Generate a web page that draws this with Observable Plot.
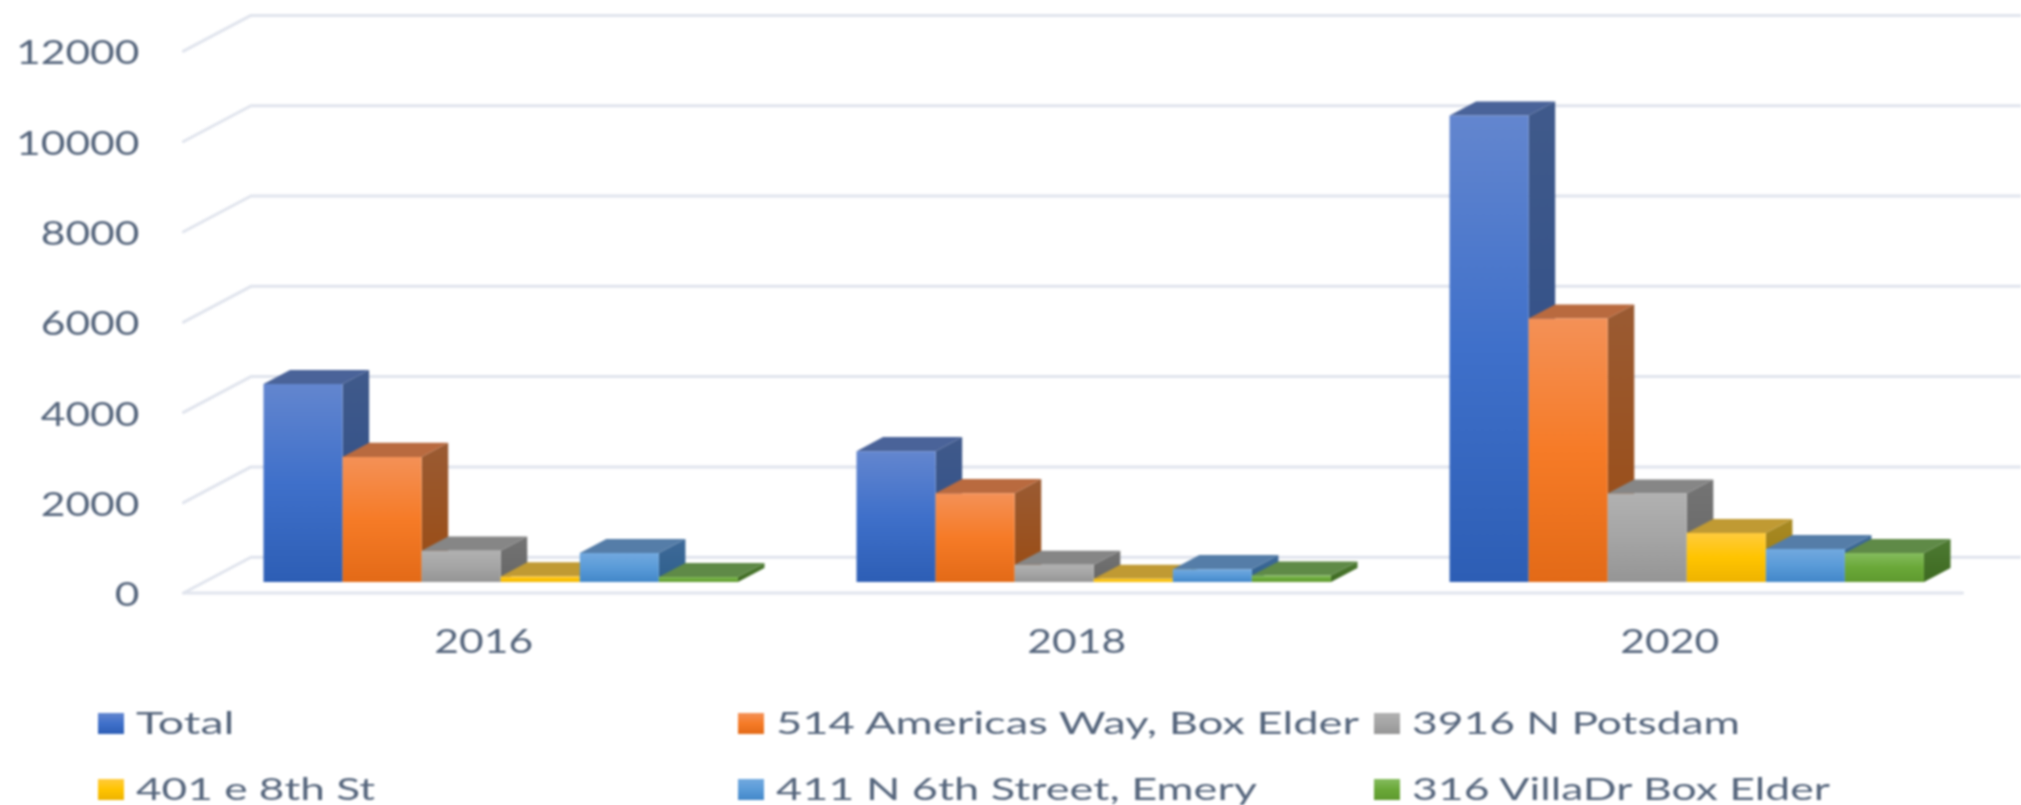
<!DOCTYPE html>
<html>
<head>
<meta charset="utf-8">
<script src="https://cdn.jsdelivr.net/npm/d3@7"></script>
<script src="https://cdn.jsdelivr.net/npm/@observablehq/plot@0.6"></script>
<style>
  html, body { margin: 0; padding: 0; background: #fff; overflow: hidden; }
  #chart { width: 2021px; height: 805px; filter: blur(1px); }
  #chart svg { display: block; }
</style>
</head>
<body>
<div id="chart"></div>
<script>
// ---- data ----
const years = ["2016", "2018", "2020"];
const seriesNames = ["Total", "514 Americas Way, Box Elder", "3916 N Potsdam", "401 e 8th St", "411 N 6th Street, Emery", "316 VillaDr Box Elder"];
const total    = [4385, 2897, 10330];
const americas = [2770, 1967, 5836];
const potsdam  = [693, 381, 1960];
const eighth   = [124, 70, 1085];
const emery    = [642, 284, 730];
const villa    = [110, 144, 640];
const seriesValues = [total, americas, potsdam, eighth, emery, villa];
const yTicks = [0, 2000, 4000, 6000, 8000, 10000, 12000];

// ---- colours: front top / mid / bottom, side top / bottom, roof ----
const frontColors = [
  ["#6386cf", "#3f70ca", "#2d5eb5"],
  ["#f49157", "#f67b27", "#e36a17"],
  ["#b1b1b1", "#a5a5a5", "#959595"],
  ["#ffcb3d", "#ffc400", "#eeb300"],
  ["#72a9df", "#5a9bd8", "#4287c9"],
  ["#85bc5e", "#6aa838", "#5f9a2f"]
];
const sideColors = [
  ["#405a8b", "#2b4b87"],
  ["#9a5b33", "#9a4b12"],
  ["#747474", "#666666"],
  ["#a88a24", "#9a7a10"],
  ["#3f6a99", "#2e5f8c"],
  ["#4e7a33", "#3d6a20"]
];
const roofColors = ["#4a6399", "#b96a3f", "#868686", "#c09a33", "#557da8", "#5f8a47"];
const textColor = "#55657c";
const gridColor = "#e0e4ed";

// ---- oblique projection, in data units ----
const groupStep = 7.5;            // category width, in bar widths
const depthU = 0.336, depthV = 312;
const floorFront = -0.78, floorBack = 1.76;
const floorLeft = -0.75, floorRight = 21.75;
const px = (u, v, d) => ({u: u + d * depthU, v: v + d * depthV});

// gridlines
const gridPts = yTicks.flatMap(t => [
  {...px(floorLeft, t, floorFront), z: "g" + t},
  {...px(floorLeft, t, floorBack), z: "g" + t},
  {...px(floorRight, t, floorBack), z: "g" + t}
]).concat([
  {...px(floorLeft, 0, floorFront), z: "front"},
  {...px(floorRight, 0, floorFront), z: "front"}
]);

// bar faces, in drawing order
const faces = [];
years.forEach((yr, g) => {
  seriesNames.forEach((name, i) => {
    const v = seriesValues[i][g];
    const a = g * groupStep + i, b = a + 1;
    const add = (kind, fill, pts) => pts.forEach(p => faces.push({...p, z: `${g}-${i}-${kind}`, fill}));
    add("side", `url(#side${i})`, [px(b, 0, 0), px(b, 0, 1), px(b, v, 1), px(b, v, 0)]);
    add("roof", roofColors[i], [px(a, v, 0), px(a, v, 1), px(b, v, 1), px(b, v, 0)]);
    add("front", `url(#front${i})`, [px(a, 0, 0), px(a, v, 0), px(b, v, 0), px(b, 0, 0)]);
  });
});

const gradients = () => {
  const defs = d3.create("svg:defs");
  const grad = (id, stops) => {
    const g = defs.append("linearGradient").attr("id", id)
      .attr("x1", 0).attr("y1", 0).attr("x2", 0).attr("y2", 1);
    stops.forEach((c, k) => g.append("stop")
      .attr("offset", k / (stops.length - 1)).attr("stop-color", c));
  };
  frontColors.forEach((s, i) => grad("front" + i, s));
  sideColors.forEach((s, i) => grad("side" + i, s));
  return defs.node();
};

const unit = 79.07;
const x0 = 263;
const plot = Plot.plot({
  width: 2021,
  height: 680,
  marginLeft: 139,
  marginBottom: 50,
  marginTop: 0,
  marginRight: 0,
  style: {background: "transparent", fontFamily: "Lato", fontSize: "32px", color: textColor, overflow: "hidden"},
  x: {type: "linear", domain: [0, 20], range: [x0, x0 + 20 * unit], axis: null},
  y: {type: "linear", domain: [0, 12000], range: [581.5, 581.5 - 541.8], axis: null},
  color: {type: "identity"},
  marks: [
    gradients,
    Plot.line(gridPts, {x: "u", y: "v", z: "z", stroke: gridColor, strokeWidth: 3}),
    Plot.line(faces, {x: "u", y: "v", z: "z", fill: "fill", stroke: "none"}),
    Plot.axisY({ticks: yTicks, tickSize: 0, tickPadding: 0, label: null, dy: 14, tickFormat: d => String(d)}),
    Plot.axisX({
      ticks: years.map((_, g) => g * groupStep + 3),
      tickFormat: d => years[Math.round((d - 3) / groupStep)],
      tickSize: 0, tickPadding: 0, label: null, dx: -17
    })
  ]
});

// stretch the tick labels to the wide look of the picture
d3.select(plot).selectAll('[aria-label="y-axis tick label"] text, [aria-label="x-axis tick label"] text')
  .each(function () {
    const n = this.textContent.length;
    d3.select(this).attr("textLength", n * 24.7).attr("lengthAdjust", "spacingAndGlyphs");
  });

// ---- legend ----
const legendCols = [98, 738, 1374];
const legendRows = [713, 779];
const legendTextWidths = [98.5, 583, 328, 239, 481, 418];
const legend = d3.create("svg").attr("width", 2021).attr("height", 125)
  .attr("viewBox", "0 680 2021 125")
  .style("font-family", "Lato").style("font-size", "30px");
seriesNames.forEach((name, i) => {
  const lx = legendCols[i % 3], ly = legendRows[Math.floor(i / 3)];
  legend.append("rect").attr("x", lx).attr("y", ly).attr("width", 26).attr("height", 21)
    .attr("fill", `url(#front${i})`);
  legend.append("text").attr("x", lx + 38).attr("y", ly + 21).attr("fill", textColor)
    .attr("textLength", legendTextWidths[i]).attr("lengthAdjust", "spacingAndGlyphs")
    .text(name);
});

const chart = document.getElementById("chart");
chart.append(plot);
chart.append(legend.node());
</script>
</body>
</html>
